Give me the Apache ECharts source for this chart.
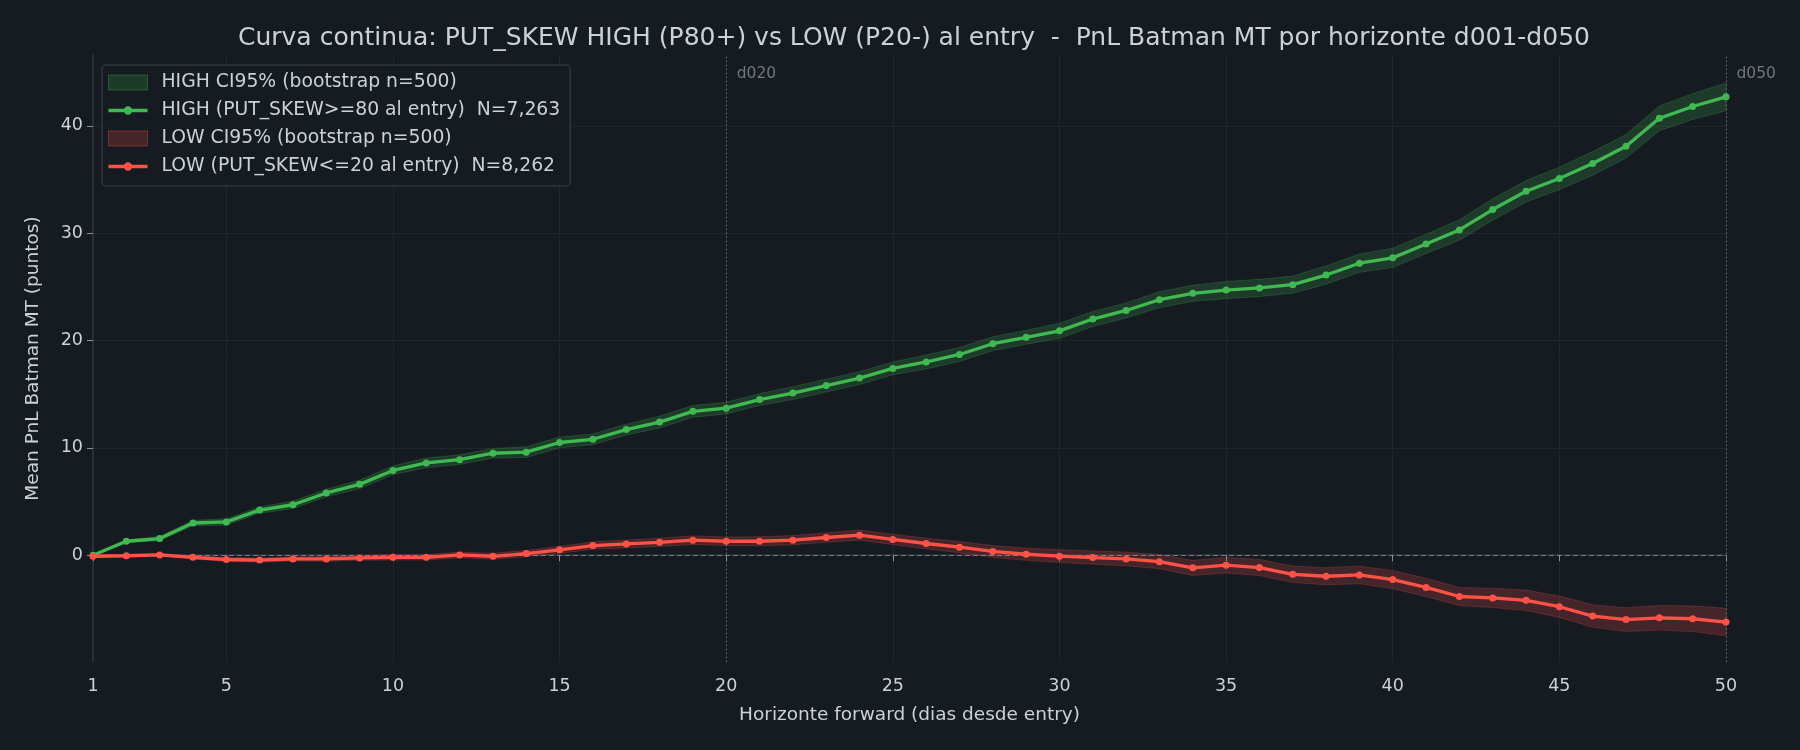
<!DOCTYPE html>
<html>
<head>
<meta charset="utf-8">
<title>PUT_SKEW HIGH vs LOW</title>
<script src="https://cdn.jsdelivr.net/npm/echarts@6/dist/echarts.min.js"></script>
<style>
  html, body { margin: 0; padding: 0; background: #161b22; }
  #chart { width: 1800px; height: 750px; }
</style>
</head>
<body>
<div id="chart"></div>
<script>
// horizonte (dias desde entry)
var days = [1, 2, 3, 4, 5, 6, 7, 8, 9, 10,
  11, 12, 13, 14, 15, 16, 17, 18, 19, 20,
  21, 22, 23, 24, 25, 26, 27, 28, 29, 30,
  31, 32, 33, 34, 35, 36, 37, 38, 39, 40,
  41, 42, 43, 44, 45, 46, 47, 48, 49, 50];

var xTicks = [1, 5, 10, 15, 20, 25, 30, 35, 40, 45, 50];
var yTicks = [0, 10, 20, 30, 40];

// HIGH (PUT_SKEW >= 80)
var highMean = [0.0, 1.3, 1.55, 3.0, 3.1, 4.2, 4.7, 5.8, 6.6, 7.9,
  8.6, 8.9, 9.5, 9.6, 10.5, 10.8, 11.7, 12.4, 13.4, 13.7,
  14.5, 15.1, 15.8, 16.5, 17.4, 18.0, 18.7, 19.7, 20.3, 20.9,
  22.0, 22.8, 23.8, 24.4, 24.7, 24.9, 25.2, 26.1, 27.2, 27.7,
  29.0, 30.3, 32.2, 33.9, 35.1, 36.5, 38.1, 40.7, 41.8, 42.7];
var highLo = [0.0, 1.15, 1.35, 2.75, 2.8, 3.9, 4.35, 5.45, 6.2, 7.5,
  8.15, 8.45, 9.05, 9.1, 10.0, 10.3, 11.2, 11.85, 12.85, 13.15,
  13.95, 14.5, 15.2, 15.9, 16.8, 17.35, 18.05, 19.05, 19.65, 20.2,
  21.3, 22.1, 23.05, 23.65, 23.9, 24.1, 24.4, 25.25, 26.35, 26.8,
  28.1, 29.35, 31.2, 32.9, 34.05, 35.4, 37.0, 39.55, 40.6, 41.4];
var highHi = [0.0, 1.45, 1.75, 3.25, 3.4, 4.5, 5.05, 6.15, 7.0, 8.3,
  9.05, 9.35, 9.95, 10.1, 11.0, 11.3, 12.2, 12.95, 13.95, 14.25,
  15.05, 15.7, 16.4, 17.1, 18.0, 18.65, 19.35, 20.35, 20.95, 21.6,
  22.7, 23.5, 24.55, 25.15, 25.5, 25.7, 26.0, 26.95, 28.05, 28.6,
  29.9, 31.25, 33.2, 34.9, 36.15, 37.6, 39.2, 41.85, 43.0, 44.0];

// LOW (PUT_SKEW <= 20)
var lowMean = [-0.1, -0.05, 0.03, -0.2, -0.4, -0.45, -0.35, -0.35, -0.25, -0.2,
  -0.2, 0.03, -0.1, 0.15, 0.5, 0.9, 1.05, 1.2, 1.4, 1.3,
  1.3, 1.4, 1.65, 1.87, 1.47, 1.09, 0.75, 0.35, 0.09, -0.09,
  -0.22, -0.35, -0.6, -1.18, -0.93, -1.15, -1.78, -1.96, -1.84, -2.27,
  -3.0, -3.85, -3.98, -4.2, -4.8, -5.67, -6.0, -5.83, -5.92, -6.23];
var lowLo = [-0.15, -0.15, -0.09, -0.35, -0.58, -0.65, -0.55, -0.57, -0.47, -0.45,
  -0.45, -0.24, -0.38, -0.15, 0.18, 0.55, 0.69, 0.82, 1.0, 0.9,
  0.88, 0.97, 1.2, 1.4, 0.99, 0.59, 0.23, -0.2, -0.48, -0.69,
  -0.84, -0.99, -1.26, -1.88, -1.65, -1.9, -2.55, -2.76, -2.66, -3.12,
  -3.85, -4.7, -4.88, -5.15, -5.8, -6.72, -7.1, -6.98, -7.12, -7.51];
var lowHi = [-0.05, 0.05, 0.15, -0.05, -0.22, -0.25, -0.15, -0.13, -0.03, 0.05,
  0.05, 0.3, 0.18, 0.45, 0.82, 1.25, 1.41, 1.58, 1.8, 1.7,
  1.72, 1.83, 2.1, 2.34, 1.95, 1.59, 1.27, 0.9, 0.66, 0.51,
  0.4, 0.29, 0.06, -0.48, -0.21, -0.4, -1.01, -1.16, -1.02, -1.42,
  -2.15, -3.0, -3.08, -3.25, -3.8, -4.62, -4.9, -4.68, -4.72, -4.95];

var GREEN = '#3fb950';
var RED = '#ff5247';
var TXT = '#c9d1d9';
var FONT = 'DejaVu Sans';

var nameHighCI = 'HIGH CI95% (bootstrap n=500)';
var nameHigh = 'HIGH (PUT_SKEW>=80 al entry)  N=7,263';
var nameLowCI = 'LOW CI95% (bootstrap n=500)';
var nameLow = 'LOW (PUT_SKEW<=20 al entry)  N=8,262';

// icono de leyenda: linea gruesa con marcador en el centro
var lineIcon = 'path://M0,5.7 L39,5.7 L39,9.3 L0,9.3 Z M15.3,7.5 A4.2,4.2 0 1 1 23.7,7.5 A4.2,4.2 0 1 1 15.3,7.5 Z';

function pairs(xs, ys) {
  var out = [];
  for (var i = 0; i < xs.length; ++i) out.push([xs[i], ys[i]]);
  return out;
}

function bandData(lo, hi) {
  var out = [];
  for (var i = 0; i < days.length; ++i) out.push([days[i], lo[i], hi[i]]);
  return out;
}

// banda CI como un poligono (upper ida, lower vuelta)
function bandRenderer(lo, hi, fill, stroke) {
  return function (params, api) {
    if (params.dataIndex !== 0) return null;
    var pts = [];
    for (var i = 0; i < days.length; ++i) pts.push(api.coord([days[i], hi[i]]));
    for (var j = days.length - 1; j >= 0; --j) pts.push(api.coord([days[j], lo[j]]));
    return {
      type: 'polygon',
      shape: { points: pts },
      style: { fill: fill, stroke: stroke, lineWidth: 1 }
    };
  };
}

var myChart = echarts.init(document.getElementById('chart'));

var option = {
  backgroundColor: '#161b22',
  animation: false,
  textStyle: { fontFamily: FONT },
  title: {
    text: 'Curva continua: PUT_SKEW HIGH (P80+) vs LOW (P20-) al entry  -  PnL Batman MT por horizonte d001-d050',
    left: 233,
    top: 21,
    textStyle: { color: TXT, fontSize: 25, fontWeight: 'normal', fontFamily: FONT }
  },
  legend: {
    orient: 'vertical',
    left: 102,
    top: 65,
    padding: [7, 10, 9, 6],
    itemGap: 7,
    itemWidth: 39,
    itemHeight: 15,
    backgroundColor: '#161b22',
    borderColor: '#30363d',
    borderWidth: 1.5,
    borderRadius: 4,
    textStyle: { color: TXT, fontSize: 18.8, lineHeight: 21, fontFamily: FONT, padding: [0, 0, 0, 9] },
    data: [
      { name: nameHighCI, icon: 'rect',
        itemStyle: { color: 'rgba(63,185,80,0.2)', borderColor: 'rgba(63,185,80,0.35)', borderWidth: 1 } },
      { name: nameHigh, icon: lineIcon, itemStyle: { color: GREEN } },
      { name: nameLowCI, icon: 'rect',
        itemStyle: { color: 'rgba(255,82,71,0.2)', borderColor: 'rgba(255,82,71,0.35)', borderWidth: 1 } },
      { name: nameLow, icon: lineIcon, itemStyle: { color: RED } }
    ]
  },
  grid: { left: 93, right: 74, top: 55, bottom: 88, containLabel: false },
  xAxis: {
    type: 'value',
    min: 1,
    max: 50,
    name: 'Horizonte forward (dias desde entry)',
    nameLocation: 'middle',
    nameGap: 44,
    nameTextStyle: { color: TXT, fontSize: 18.5, fontFamily: FONT },
    axisLine: { show: true, lineStyle: { color: '#30363d', width: 1.5 } },
    axisTick: { show: true, length: 6, customValues: xTicks, lineStyle: { color: '#8b949e' } },
    axisLabel: { customValues: xTicks, color: TXT, fontSize: 17.5, margin: 15, fontFamily: FONT },
    splitLine: { show: true, lineStyle: { color: '#21262d', width: 1 } }
  },
  yAxis: {
    type: 'value',
    min: -9.95,
    max: 46.6,
    name: 'Mean PnL Batman MT (puntos)',
    nameLocation: 'middle',
    nameGap: 50,
    nameTextStyle: { color: TXT, fontSize: 18.5, fontFamily: FONT },
    axisLine: { show: true, lineStyle: { color: '#30363d', width: 1.5 } },
    axisTick: { show: true, length: 6, customValues: yTicks, lineStyle: { color: '#8b949e' } },
    axisLabel: { customValues: yTicks, color: TXT, fontSize: 17.5, margin: 10, fontFamily: FONT },
    splitLine: { show: true, lineStyle: { color: '#21262d', width: 1 } }
  },
  series: [
    {
      name: nameHighCI,
      type: 'custom',
      z: 1,
      silent: true,
      itemStyle: { color: 'rgba(63,185,80,0.2)' },
      encode: { x: 0, y: [1, 2] },
      data: bandData(highLo, highHi),
      renderItem: bandRenderer(highLo, highHi, 'rgba(63,185,80,0.2)', 'rgba(63,185,80,0.22)')
    },
    {
      name: nameHigh,
      type: 'line',
      z: 4,
      data: pairs(days, highMean),
      symbol: 'circle',
      symbolSize: 7,
      color: GREEN,
      lineStyle: { color: GREEN, width: 3.3 },
      itemStyle: { color: GREEN },
      markLine: {
        silent: true,
        symbol: ['none', 'none'],
        label: { show: false },
        data: [
          { yAxis: 0, lineStyle: { type: [5, 3], color: '#8b949e', width: 1, opacity: 0.75 } },
          { xAxis: 20, lineStyle: { type: [1.5, 2.5], color: '#6e7681', width: 1, opacity: 0.9 } },
          { xAxis: 50, lineStyle: { type: [1.5, 2.5], color: '#6e7681', width: 1, opacity: 0.9 } }
        ]
      },
      markPoint: {
        silent: true,
        symbol: 'rect',
        symbolSize: [1, 1],
        itemStyle: { color: 'rgba(0,0,0,0)' },
        label: {
          show: true,
          position: 'right',
          distance: 10,
          formatter: '{b}',
          color: '#6e7681',
          fontSize: 15.5,
          fontFamily: FONT
        },
        data: [
          { name: 'd020', coord: [20, 44.8] },
          { name: 'd050', coord: [50, 44.8] }
        ]
      }
    },
    {
      name: nameLowCI,
      type: 'custom',
      z: 2,
      silent: true,
      itemStyle: { color: 'rgba(255,82,71,0.2)' },
      encode: { x: 0, y: [1, 2] },
      data: bandData(lowLo, lowHi),
      renderItem: bandRenderer(lowLo, lowHi, 'rgba(255,82,71,0.2)', 'rgba(255,82,71,0.22)')
    },
    {
      name: nameLow,
      type: 'line',
      z: 5,
      data: pairs(days, lowMean),
      symbol: 'circle',
      symbolSize: 7,
      color: RED,
      lineStyle: { color: RED, width: 3.3 },
      itemStyle: { color: RED }
    }
  ]
};

myChart.setOption(option);
</script>
</body>
</html>
